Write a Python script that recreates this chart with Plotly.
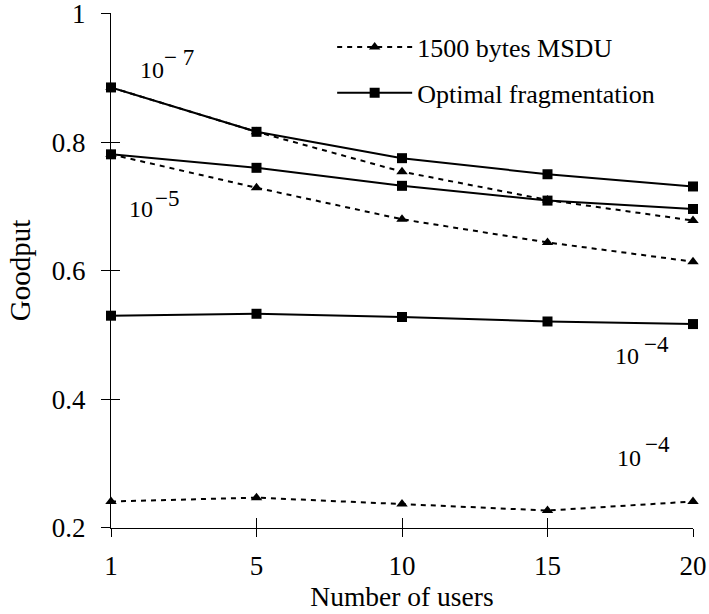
import plotly.graph_objects as go

# Number of users (equally spaced categories)
users = ["1", "5", "10", "15", "20"]

# Goodput with 1500-byte MSDU, per bit error rate
msdu_1e7 = [0.885, 0.816, 0.754, 0.710, 0.678]
msdu_1e5 = [0.781, 0.729, 0.680, 0.644, 0.614]
msdu_1e4 = [0.241, 0.247, 0.237, 0.227, 0.241]

# Goodput with optimal fragmentation, per bit error rate
opt_1e7 = [0.885, 0.816, 0.775, 0.750, 0.731]
opt_1e5 = [0.781, 0.760, 0.732, 0.709, 0.696]
opt_1e4 = [0.530, 0.533, 0.528, 0.521, 0.517]

y_ticks = [0.2, 0.4, 0.6, 0.8, 1.0]
y_tick_text = ["0.2", "0.4", "0.6", "0.8", "1"]
y_range = [0.1998, 1.0008]

FONT = "Liberation Serif, Times New Roman, serif"
DASH = "5px,5px"

fig = go.Figure()

msdu_style = dict(mode="lines+markers", cliponaxis=False,
                  line=dict(color="black", width=2, dash=DASH),
                  marker=dict(symbol="triangle-up", size=10, color="black"))
opt_style = dict(mode="lines+markers", cliponaxis=False,
                 line=dict(color="black", width=2),
                 marker=dict(symbol="square", size=10, color="black"))

for i, ys in enumerate([msdu_1e7, msdu_1e5, msdu_1e4]):
    fig.add_trace(go.Scatter(x=users, y=ys, name="1500 bytes MSDU",
                             showlegend=(i == 0), legend="legend", **msdu_style))
for i, ys in enumerate([opt_1e7, opt_1e5, opt_1e4]):
    fig.add_trace(go.Scatter(x=users, y=ys, name="Optimal fragmentation",
                             showlegend=(i == 0), legend="legend2", **opt_style))

# Bit error rate labels: mantissa and full-size exponent
ber_labels = [
    # base, (x, y), exponent, (x, y)
    ("10", (0.282, 0.912), "− 7", (0.350, 0.931)),
    ("10", (0.203, 0.696), "−5", (0.288, 0.712)),
    ("10", (3.544, 0.468), "−4", (3.647, 0.485)),
    ("10", (3.561, 0.308), "−4", (3.654, 0.329)),
]
for base, (bx, by), exp, (ex, ey) in ber_labels:
    fig.add_annotation(x=bx, y=by, xref="x", yref="y", text=base, showarrow=False,
                       xanchor="center", yanchor="middle",
                       font=dict(family=FONT, size=24, color="black"))
    fig.add_annotation(x=ex, y=ey, xref="x", yref="y", text=exp, showarrow=False,
                       xanchor="left", yanchor="middle",
                       font=dict(family=FONT, size=23, color="black"))

axis_common = dict(showgrid=False, zeroline=False, linecolor="black", linewidth=1.3,
                   tickcolor="black", tickwidth=1.3, automargin=False,
                   tickfont=dict(size=27))

fig.update_layout(
    width=709, height=614,
    margin=dict(l=111, r=16, t=13, b=86),
    paper_bgcolor="white", plot_bgcolor="white",
    font=dict(family=FONT, size=26, color="black"),
    xaxis=dict(type="category", range=[0, 4], showline=True, ticks="outside",
               ticklen=8, ticklabelstandoff=5,
               title=dict(text="Number of users", standoff=0, font=dict(size=27.5)),
               **axis_common),
    yaxis=dict(range=y_range, showline=True, ticks="outside", ticklen=9,
               tickvals=y_ticks, ticktext=y_tick_text, ticklabelstandoff=10,
               ticklabeloverflow="allow",
               title=dict(text="Goodput", standoff=12, font=dict(size=29)),
               **axis_common),
    # inward half of the crossing tick marks
    xaxis2=dict(overlaying="x", range=[0, 4], tickvals=[0, 1, 2, 3, 4],
                showticklabels=False, ticks="inside", ticklen=10, showline=False,
                showgrid=False, zeroline=False, tickcolor="black", tickwidth=1.3,
                side="bottom", anchor="y", automargin=False),
    yaxis2=dict(overlaying="y", range=y_range, tickvals=y_ticks,
                showticklabels=False, ticks="inside", ticklen=9, showline=False,
                showgrid=False, zeroline=False, tickcolor="black", tickwidth=1.3,
                side="left", anchor="x", automargin=False),
    legend=dict(x=0.38, y=0.934, xanchor="left", yanchor="middle",
                bgcolor="rgba(0,0,0,0)", font=dict(size=26), itemwidth=75),
    legend2=dict(x=0.38, y=0.845, xanchor="left", yanchor="middle",
                 bgcolor="rgba(0,0,0,0)", font=dict(size=26), itemwidth=75),
)

# empty trace so the overlay axes are drawn
fig.add_trace(go.Scatter(x=[None], y=[None], xaxis="x2", yaxis="y2",
                         showlegend=False, hoverinfo="skip"))

fig.write_html("out.html")
